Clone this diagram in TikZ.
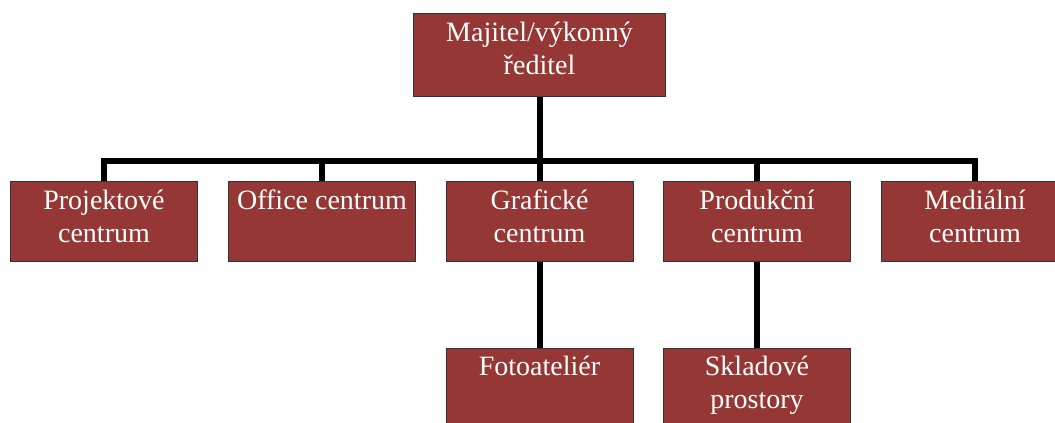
\documentclass[tikz,border=0pt]{standalone}
\usepackage{fontspec}
\setmainfont{Liberation Serif}
\definecolor{boxred}{HTML}{953735}

\begin{document}
\begin{tikzpicture}[x=0.75pt,y=-0.75pt,
		unit/.style={draw=black!80, fill=boxred, line width=0.75pt, inner sep=0pt, minimum width=140.25pt, minimum height=60pt},
		lbl/.style={anchor=north, inner sep=0pt, align=center, text=white, font=\fontsize{21}{24.75}\selectfont},
		conn/.style={line width=4.5pt, black}]
		\useasboundingbox (0,0) rectangle (1055,423);
		\clip (0,0) rectangle (1055,423);
		%\draw[help lines,dashed] (0,0) grid[step=50] (1055,423);
		
		\node[unit, minimum width=189pt, minimum height=62.25pt] (owner) at (539.5,55) {};
		\node[lbl] (owner-t) at (539.5,22) {Majitel/výkonný\\ředitel};
		
		\node[unit] (proj) at (104,222) {};
		\node[unit] (office) at (322,222) {};
		\node[unit] (graf) at (539.5,222) {};
		\node[unit] (prod) at (757,222) {};
		\node[unit] (media) at (975,222) {};
		\node[lbl] (proj-t) at (104,189.5) {Projektové\\centrum};
		\node[lbl] (office-t) at (322,189.5) {Office centrum};
		\node[lbl] (graf-t) at (539.5,189.5) {Grafické\\centrum};
		\node[lbl] (prod-t) at (757,189.5) {Produkční\\centrum};
		\node[lbl] (media-t) at (975,189.5) {Mediální\\centrum};
		
		% lower boxes run past the bottom edge
		\node[unit, anchor=north] (foto) at (539.5,348) {};
		\node[unit, anchor=north] (sklad) at (757,348) {};
		\node[lbl] (foto-t) at (539.5,355.5) {Fotoateliér};
		\node[lbl] (sklad-t) at (757,355.5) {Skladové\\prostory};
		
		\coordinate (bus) at (539.5,161);
		\draw[conn] (owner.south) -- (bus);
		\draw[conn] (proj.north) |- (bus) -| (media.north);
		\draw[conn] (office.north) -- (office.north |- bus);
		\draw[conn] (graf.north) -- (bus);
		\draw[conn] (prod.north) -- (prod.north |- bus);
		\draw[conn] (graf.south) -- (foto.north);
		\draw[conn] (prod.south) -- (sklad.north);
\end{tikzpicture}
\end{document}
